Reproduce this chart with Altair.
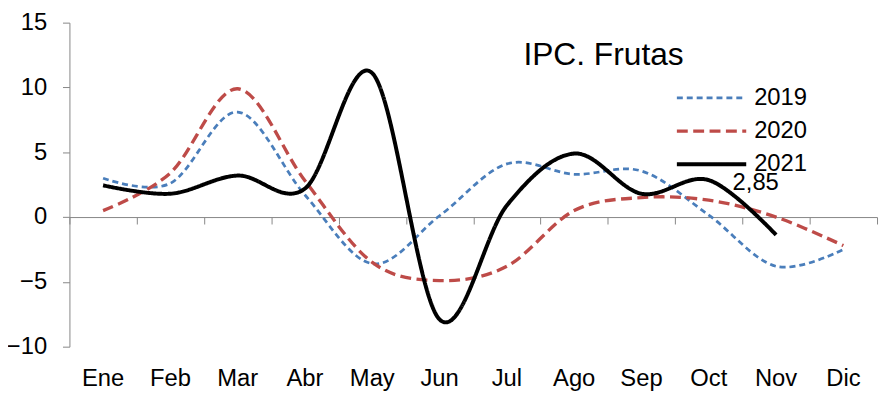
import altair as alt
import pandas as pd

months = ["Ene", "Feb", "Mar", "Abr", "May", "Jun", "Jul", "Ago", "Sep", "Oct", "Nov", "Dic"]
years = ["2019", "2020", "2021"]
v2019 = [3.0, 2.6, 8.1, 1.7, -3.6, 0.1, 4.1, 3.3, 3.55, 0.15, -3.8, -2.5]
v2020 = [0.5, 3.4, 9.9, 2.8, -3.5, -4.9, -3.8, 0.5, 1.5, 1.3, 0.0, -2.2]
v2021 = [2.45, 1.8, 3.2, 2.2, 11.1, -7.9, 0.9, 4.9, 1.8, 2.85, -1.38, None]
title_text = "IPC. Frutas"
label_month = ["Oct"]
label_value = [2.85]
label_text = ["2,85"]

rows = []
for yr, vals in zip(years, [v2019, v2020, v2021]):
    for m, v in zip(months, vals):
        if v is not None:
            rows.append({"mes": m, "anio": yr, "valor": v})
df = pd.DataFrame(rows)
lab = pd.DataFrame({"mes": label_month, "valor": label_value, "txt": label_text})
tdf = pd.DataFrame({"t": [title_text]})

FONT = "Liberation Sans"
GREY = "#878787"
colors = ["#4A7EBB", "#BE4B48", "#000000"]
dashes = [[6, 4], [11, 5.5], [1, 0]]
widths = [2.75, 4, 5]

x_scale = alt.Scale(type="band", domain=months, paddingInner=0, paddingOuter=0)
y_scale = alt.Scale(domain=[-10, 15], nice=False, zero=False)

y_axis = alt.Axis(values=[-10, -5, 0, 5, 10, 15], grid=False, domainColor=GREY,
                  tickColor=GREY, tickSize=7, labelFontSize=24, labelFont=FONT,
                  labelColor="black", labelPadding=16, title=None)

leg = alt.Legend(orient="none", legendX=611, legendY=60, title=None,
                 symbolType="stroke", symbolSize=4900, labelFontSize=24,
                 labelFont=FONT, labelColor="black", clipHeight=32,
                 rowPadding=1.5, labelOffset=6, padding=0)

lines = alt.Chart(df).mark_line(interpolate="cardinal").encode(
    x=alt.X("mes:N", scale=x_scale, sort=months,
            axis=alt.Axis(orient="bottom", domain=False, ticks=False, labelFontSize=24,
                          labelFont=FONT, labelColor="black", labelPadding=20,
                          labelAngle=0, title=None)),
    y=alt.Y("valor:Q", scale=y_scale, axis=y_axis),
    color=alt.Color("anio:N", scale=alt.Scale(domain=years, range=colors), legend=leg),
    strokeDash=alt.StrokeDash("anio:N", scale=alt.Scale(domain=years, range=dashes), legend=leg),
    strokeWidth=alt.StrokeWidth("anio:N", scale=alt.Scale(domain=years, range=widths), legend=leg),
)

labels = alt.Chart(lab).mark_text(align="left", baseline="alphabetic", dx=24, dy=10,
                                  fontSize=24, font=FONT, color="black").encode(
    x=alt.X("mes:N", scale=x_scale, sort=months,
            axis=alt.Axis(orient="bottom", offset=-130.8, tickBand="extent", labels=False,
                          domainColor=GREY, tickColor=GREY, tickSize=7, title=None)),
    y=alt.Y("valor:Q", scale=y_scale, axis=y_axis),
    text="txt:N",
)

title = alt.Chart(tdf).mark_text(align="center", baseline="alphabetic", fontSize=32,
                                 font=FONT, color="black").encode(
    x=alt.value(539), y=alt.value(43), text="t:N")

chart = alt.layer(lines, labels, title).resolve_axis(x="independent").properties(
    width=815, height=327,
    autosize=alt.AutoSizeParams(type="none"),
    padding={"left": 62, "top": 13, "right": 3, "bottom": 46},
).configure_view(stroke=None)

chart.save("out.html", embed_options={"renderer": "svg", "actions": False})
